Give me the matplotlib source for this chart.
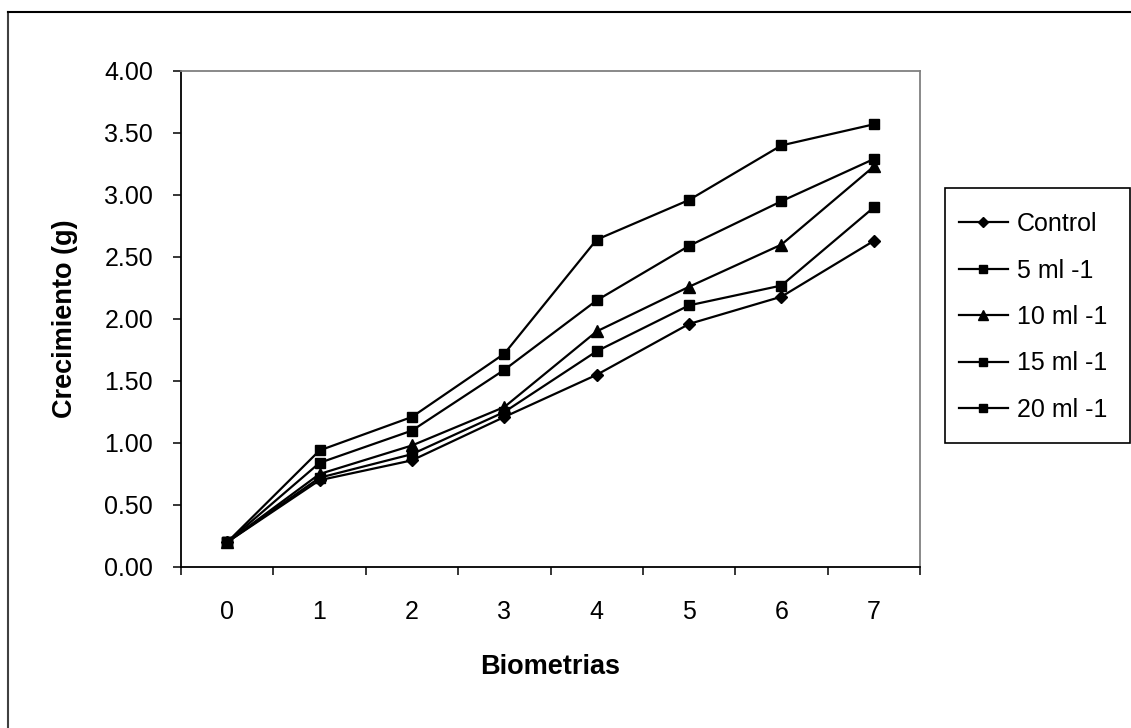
import matplotlib
matplotlib.use("Agg")
import matplotlib.pyplot as plt
from matplotlib.lines import Line2D
from matplotlib.patches import Rectangle
from matplotlib.ticker import FixedLocator, FixedFormatter

plt.rcParams['font.family'] = ['Liberation Sans', 'DejaVu Sans']

categories = [0, 1, 2, 3, 4, 5, 6, 7]
control = [0.20, 0.70, 0.86, 1.21, 1.55, 1.96, 2.18, 2.63]
ml5 = [0.20, 0.72, 0.91, 1.25, 1.74, 2.11, 2.27, 2.90]
ml10 = [0.20, 0.75, 0.98, 1.29, 1.90, 2.26, 2.60, 3.23]
ml15 = [0.20, 0.84, 1.10, 1.59, 2.15, 2.59, 2.95, 3.29]
ml20 = [0.20, 0.94, 1.21, 1.72, 2.64, 2.96, 3.40, 3.57]
series_labels = ["Control", "5 ml -1", "10 ml -1", "15 ml -1", "20 ml -1"]
y_ticks = [0.0, 0.5, 1.0, 1.5, 2.0, 2.5, 3.0, 3.5, 4.0]

W, H = 1131, 728
FS = 18
FSL = 19.5
fig = plt.figure(figsize=(W / 100, H / 100), dpi=100)
ax = fig.add_axes([181 / W, 1 - 567 / H, (920 - 181) / W, (567 - 71) / H])

series = [control, ml5, ml10, ml15, ml20]
markers = ['D', 's', '^', 's', 's']
msizes = [6, 7, 8, 7, 7]
for vals, lab, m, ms in zip(series, series_labels, markers, msizes):
    ax.plot(categories, vals, color='black', lw=1.6, marker=m, ms=ms,
            mfc='black', mec='black', label=lab, zorder=3, clip_on=False)

ax.set_xlim(-0.5, 7.5)
ax.set_ylim(0, 4)
ax.set_yticks(y_ticks)
ax.set_yticklabels([f"{v:.2f}" for v in y_ticks], fontsize=FS)

major = [c - 0.5 for c in categories] + [categories[-1] + 0.5]
ax.xaxis.set_major_locator(FixedLocator(major))
ax.xaxis.set_major_formatter(FixedFormatter([''] * len(major)))
ax.xaxis.set_minor_locator(FixedLocator(categories))
ax.xaxis.set_minor_formatter(FixedFormatter([str(c) for c in categories]))
ax.tick_params(axis='x', which='major', direction='out', length=6, width=1.1, color='black')
ax.tick_params(axis='x', which='minor', length=0, pad=24, labelsize=FS)
ax.tick_params(axis='y', which='major', direction='out', length=6, width=1.1, pad=14, color='black')

for s in ['left', 'bottom']:
    ax.spines[s].set_color('black')
    ax.spines[s].set_linewidth(1.3)
for s in ['top', 'right']:
    ax.spines[s].set_color('#808080')
    ax.spines[s].set_linewidth(1.3)

ax.set_ylabel("Crecimiento (g)", fontsize=FSL, fontweight='bold')
ax.set_xlabel("Biometrias", fontsize=FSL, fontweight='bold')
ax.yaxis.set_label_coords((78 - 181) / (920 - 181), 0.5)
ax.xaxis.set_label_coords(0.5, -(654 - 567) / (567 - 71))

handles = []
for lab, m, ms in zip(series_labels, markers, [5, 6, 6.5, 6, 6]):
    handles.append(Line2D([0], [0], color='black', lw=1.6, marker=m, ms=ms,
                          mfc='black', mec='black', label=lab))
leg = fig.legend(handles=handles, loc='upper left',
                 bbox_to_anchor=(959 / W, 1 - 212 / H), borderaxespad=0,
                 fontsize=FS, frameon=False, handlelength=1.95, handletextpad=0.36,
                 labelspacing=0.9, borderpad=0)

# legend frame
fig.add_artist(Rectangle((945 / W, 1 - 443 / H), (1130 - 945) / W, (443 - 188) / H,
                         transform=fig.transFigure, fill=False,
                         edgecolor='black', lw=1.2))

# outer chart border (left and top visible)
fig.add_artist(Line2D([8 / W, 8 / W], [0, 1 - 12 / H], transform=fig.transFigure,
                      color='#404040', lw=1.5))
fig.add_artist(Line2D([8 / W, 1], [1 - 12 / H, 1 - 12 / H], transform=fig.transFigure,
                      color='black', lw=1.5))

fig.savefig("out.png", dpi=100, facecolor='white')
